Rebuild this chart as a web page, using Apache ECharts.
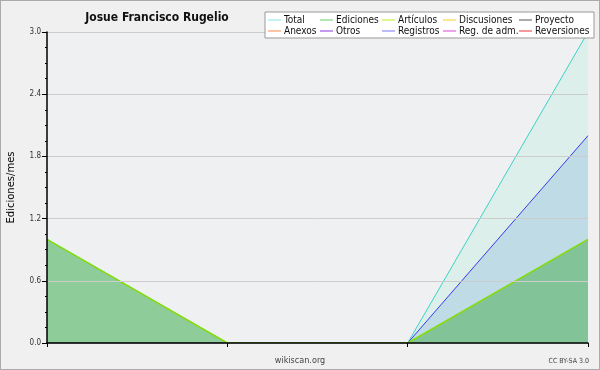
<!DOCTYPE html>
<html><head><meta charset="utf-8">
<script src="https://cdn.jsdelivr.net/npm/echarts@6/dist/echarts.min.js"></script>
<style>
html,body{margin:0;padding:0;background:#f0f0f0;}
#c{width:600px;height:370px;box-sizing:border-box;border:1px solid #aaa;}
</style></head><body>
<div id="c"></div>
<script>
const categories = ['m1','m2','m3','m4'];
const total = [1,0,0,3];
const ediciones = [1,0,0,1];
const articulos = [1,0,0,1];
const registros = [0,0,0,2];
const legendCols = [['Total','Anexos'],['Ediciones','Otros'],['Artículos','Registros'],['Discusiones','Reg. de adm.'],['Proyecto','Reversiones']];
const legendColors = {
 'Total':'#88e4e0','Ediciones':'#66cc66','Artículos':'#bbee22','Discusiones':'#ffcc22','Proyecto':'#555555',
 'Anexos':'#ff8844','Otros':'#8833dd','Registros':'#7777ff','Reg. de adm.':'#dd44dd','Reversiones':'#ee3333'
};
const yMin = 0, yMax = 3, yStep = 0.6;

const font = '"DejaVu Sans Condensed", "DejaVu Sans"';
const dataMap = {'Total':total,'Ediciones':ediciones,'Artículos':articulos,'Registros':registros};
const lineColors = {'Total':'#3cd2c8','Ediciones':'#55bb55','Artículos':'#88dd11','Registros':'#3a3aee'};
const areaColors = {'Total':'rgba(130,240,195,0.17)','Registros':'rgba(100,160,220,0.25)','Ediciones':'rgba(90,180,100,0.6)'};
const order = ['Total','Registros','Ediciones','Artículos','Discusiones','Proyecto','Anexos','Otros','Reg. de adm.','Reversiones'];
const series = order.map((n,i)=>{
  const s = {name:n,type:'line',data:dataMap[n]||[],showSymbol:false,symbol:'none',z:2+i,
    lineStyle:{width:n==='Artículos'?1.5:1,color:lineColors[n]||legendColors[n]},
    itemStyle:{color:legendColors[n]},animation:false};
  if(areaColors[n]) s.areaStyle={color:areaColors[n],opacity:1};
  return s;
});
const colX = [267,319,381,442,518];
const legends = legendCols.map((col,i)=>({
  orient:'vertical',left:colX[i],top:14,itemGap:1,itemWidth:13,itemHeight:1,padding:0,z:30,
  icon:'rect',selectedMode:false,
  data:col.map(n=>({name:n,itemStyle:{color:legendColors[n]}})),
  textStyle:{fontFamily:font,fontSize:10,color:'#111',padding:[0,0,0,-2]}
}));
const chart = echarts.init(document.getElementById('c'),null,{renderer:'canvas'});
chart.setOption({
  animation:false,
  backgroundColor:'#f0f0f0',
  title:{text:'Josue Francisco Rugelio',left:151,top:6,textAlign:'center',
    textStyle:{fontFamily:font,fontSize:12,fontWeight:'bold',color:'#111'}},
  legend:legends,
  grid:{left:46,right:11,top:31,bottom:26,show:true,backgroundColor:'#eff0f2',borderWidth:0,outerBoundsMode:'none',containLabel:false},
  graphic:[
    {type:'rect',shape:{x:264,y:11,width:329,height:26},style:{fill:'#fff',stroke:'#999',lineWidth:1},z:25},
    {type:'text',left:'center',top:355,style:{text:'wikiscan.org',fontFamily:font,fontSize:9,fill:'#444'}},
    {type:'text',right:10,top:357,style:{text:'CC BY-SA 3.0',fontFamily:font,fontSize:7,fill:'#444'}}
  ],
  xAxis:{type:'category',data:categories,boundaryGap:false,z:20,
    axisLine:{lineStyle:{color:'#000',width:1.5}},
    axisTick:{show:true,length:4,lineStyle:{color:'#000'}},
    axisLabel:{show:false},splitLine:{show:false}},
  yAxis:{type:'value',min:yMin,max:yMax,interval:yStep,z:20,
    name:'Ediciones/mes',nameLocation:'middle',nameGap:31,
    nameTextStyle:{fontFamily:'DejaVu Sans',fontSize:10,color:'#000'},
    axisLine:{show:true,lineStyle:{color:'#000',width:1.5}},
    axisTick:{show:true,length:5,lineStyle:{color:'#000'}},
    minorTick:{show:true,splitNumber:4,length:2,lineStyle:{color:'#000'}},
    axisLabel:{fontFamily:font,fontSize:8,color:'#333',margin:6,formatter:v=>v.toFixed(1)},
    splitLine:{show:true,lineStyle:{color:'#cccccc',width:1}}},
  series:series
});
</script></body></html>
